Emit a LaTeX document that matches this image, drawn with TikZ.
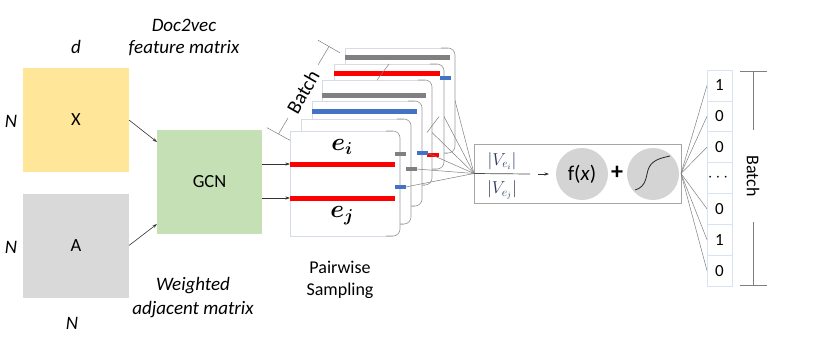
\documentclass[tikz,border=0pt]{standalone}
\usepackage{amsmath}
\usepackage{fontspec}
\setmainfont{Carlito}
\usetikzlibrary{arrows.meta}
\definecolor{xfill}{HTML}{FFE699}
\definecolor{afill}{HTML}{D9D9D9}
\definecolor{gcnfill}{HTML}{C5E0B4}
\definecolor{barRed}{HTML}{FF0000}
\definecolor{barBlue}{HTML}{4472C4}
\definecolor{barGray}{HTML}{808080}
\definecolor{cardline}{HTML}{D6DCE5}
\definecolor{curlgray}{HTML}{9A9A9A}
\definecolor{linegray}{HTML}{7F7F7F}
\definecolor{boxgray}{HTML}{A6A6A6}
\definecolor{circfill}{HTML}{D4D4D4}
\definecolor{vnavy}{HTML}{2B3A5C}
\definecolor{celline}{HTML}{DAE3F3}
\newcommand{\cardat}[3]{%
  \node[card] (#1) at (#2,#3) {};
  \draw[draw=cardline, line width=0.6pt] ([xshift=-7pt]#1.north east) -- (#1.north west) -- (#1.south west) -- ([xshift=-7pt]#1.south east);
  \draw[curl] ([xshift=-14pt]#1.north east) -- (#1.north east) -- (#1.south east) -- ([xshift=-14pt]#1.south east);
}
\begin{document}
\begin{tikzpicture}[x=1pt,y=-1pt,
  every node/.style={inner sep=0pt, outer sep=0pt},
  lab/.style={font=\fontsize{18}{20}\selectfont},
  itlab/.style={font=\fontsize{19}{21}\selectfont\itshape},
  mat/.style={minimum width=106pt, minimum height=104pt, font=\fontsize{18.5}{20}\selectfont},
  card/.style={fill=white, minimum width=110pt, minimum height=105pt, anchor=north west},
  curl/.style={draw=curlgray, line width=0.6pt, rounded corners=7pt},
  bar/.style={fill=#1, minimum height=5pt, anchor=west},
  sbar/.style={fill=#1, minimum height=4.5pt, minimum width=10.5pt, anchor=west},
  conn/.style={draw=linegray, line width=0.5pt},
  arr/.style={-{Stealth[length=4.5pt,width=3pt]}, line width=0.6pt, draw=black!80},
  cell/.style={draw=celline, line width=0.6pt, minimum width=25pt, minimum height=30.857pt, font=\fontsize{17}{19}\selectfont}
]
\useasboundingbox (0,0) rectangle (814,343);

% input matrices
\node[mat, fill=xfill] (X) at (76,120) {X};
\node[mat, fill=afill] (A) at (76,245.5) {A};
\node[mat, fill=gcnfill, minimum width=105pt] (GCN) at (209.5,182) {GCN};

\node[itlab] (d) at (76,47) {d};
\node[itlab] (N1) at (11,121) {N};
\node[itlab] (N2) at (11,247) {N};
\node[itlab] (N3) at (72,323) {N};
\node[itlab] (doc1) at (184,25) {Doc2vec};
\node[itlab] (doc2) at (184,48) {feature matrix};
\node[itlab] (w1) at (193,286) {Weighted};
\node[itlab] (w2) at (193,310) {adjacent matrix};
\node[lab] (ps1) at (340,267) {Pairwise};
\node[lab] (ps2) at (340,291) {Sampling};

\draw[arr] (X.east) -- ([yshift=-12pt]GCN.north west);
\draw[arr] (A.east) -- ([yshift=10pt]GCN.south west);

% stacked cards (back to front)
\cardat{c6}{345}{48}
\node[bar=barGray, minimum width=105pt] (g6) at (345,57) {};
\cardat{c5}{334}{64}
\node[bar=barRed, minimum width=106pt] (r5) at (334,73) {};
\node[sbar=barBlue] (s5) at (440,78) {};
\cardat{c4}{322}{80}
\node[bar=barGray, minimum width=104pt] (g4) at (322,95) {};
\node[sbar=barRed, minimum width=12pt] (s4) at (427,155) {};
\cardat{c3}{312}{101}
\node[bar=barBlue, minimum width=105pt] (b3) at (312,111) {};
\node[sbar=barBlue] (s3) at (417,153) {};
\cardat{c2}{301}{119}
\node[sbar=barGray] (s2) at (406,169) {};
\cardat{c1}{290}{131}
\node[bar=barRed, minimum width=105pt] (r1a) at (290,164) {};
\node[bar=barRed, minimum width=105pt] (r1b) at (290,198) {};
\node[sbar=barGray] (s1a) at (395,154) {};
\node[sbar=barBlue] (s1b) at (395,187) {};
\node[font=\fontsize{26}{28}\selectfont] (ei) at (342,147) {$\boldsymbol{e_i}$};
\node[font=\fontsize{26}{28}\selectfont] (ej) at (342,216) {$\boldsymbol{e_j}$};

\draw[conn] (c4.north) -- (c5.north);
\draw[conn] ([xshift=-5pt]c4.east) -- ([xshift=-5pt]c5.east);

\draw[arr] ([yshift=18pt]GCN.east) -- (r1a.west);
\draw[arr] ([yshift=-16pt]GCN.east) -- (r1b.west);

% batch bracket (left)
\coordinate (tl) at (329,46.5);
\coordinate (bl) at (278.5,134);
\coordinate (tlm) at (318,65);
\coordinate (blm) at (288,118);
\draw[conn] ([shift={(-11,-6.3)}]tl) -- ([shift={(11,6.3)}]tl);
\draw[conn] ([shift={(-11.5,-6.3)}]bl) -- ([shift={(11.5,6.3)}]bl);
\draw[conn] (tl) -- (tlm);
\draw[conn] (bl) -- (blm);
\node[font=\fontsize{20}{22}\selectfont, rotate=60] (lbatch) at (303,92) {Batch};

% ratio box
\node[draw=boxgray, line width=0.8pt, minimum width=207pt, minimum height=59pt, anchor=north west] (fbox) at (474,144) {};
\coordinate (fl) at (530,174);
\draw[draw=black!70, line width=0.7pt] (fbox.west) -- (fl);
\node[font=\fontsize{17}{19}\selectfont, text=vnavy] (num) at (502,161) {$|V_{e_i}|$};
\node[font=\fontsize{17}{19}\selectfont, text=vnavy] (den) at (502,190) {$|V_{e_j}|$};
\node[circle, fill=circfill, minimum size=52pt, font=\fontsize{21}{23}\selectfont] (fcirc) at (582,174) {f(\textit{x})};
\coordinate (ar1) at (538,174);
\draw[arr] (ar1) -- ([xshift=-7pt]fcirc.west);
\node[font=\fontsize{24}{26}\selectfont\bfseries] (plus) at (617,173) {+};
\node[circle, fill=circfill, minimum size=52pt] (scirc) at (653,174) {};
\draw[line width=0.8pt, black!85] ([shift={(-18,16)}]scirc.center) .. controls ([shift={(-7,13)}]scirc.center) and ([shift={(-7,3)}]scirc.center) .. ([shift={(-5,-4)}]scirc.center) .. controls ([shift={(-2,-14)}]scirc.center) and ([shift={(8,-16)}]scirc.center) .. ([shift={(17,-18)}]scirc.center);

% lines from cards to ratio box
\foreach \s in {c6.east, c5.east, c4.east, s3.east, s2.east, s1b.east}
  \draw[conn] (\s) -- (fbox.west);

% output column
\foreach \t [count=\k] in {1,0,0,$\cdots$,0,1,0}
  \node[cell] (o\k) at (719.5,{70+30.857*(\k-0.5)}) {\t};
\foreach \k in {1,2,3,5,6,7}
  \draw[conn] (fbox.east) -- (o\k.west);

% batch bracket (right)
\coordinate (rt) at (753,71);
\coordinate (rb) at (753,285);
\coordinate (rtm) at (753,130);
\coordinate (rbm) at (753,222);
\draw[conn] ([xshift=-13pt]rt) -- ([xshift=14pt]rt);
\draw[conn] ([xshift=-13pt]rb) -- ([xshift=14pt]rb);
\draw[conn] (rt) -- (rtm);
\draw[conn] (rb) -- (rbm);
\node[font=\fontsize{18}{20}\selectfont, rotate=-90] (rbatch) at (753,176) {Batch};
\end{tikzpicture}
\end{document}
